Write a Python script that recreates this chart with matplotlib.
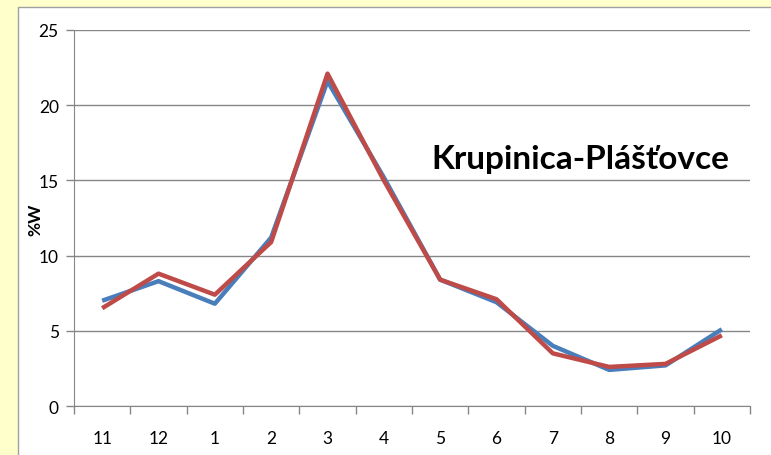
import numpy as np
import matplotlib.pyplot as plt
from matplotlib.patches import Rectangle

months = ["11", "12", "1", "2", "3", "4", "5", "6", "7", "8", "9", "10"]
blue_vals = [7.0, 8.3, 6.8, 11.2, 21.6, 15.2, 8.4, 6.9, 4.0, 2.4, 2.7, 5.1]
red_vals = [6.5, 8.8, 7.4, 10.9, 22.1, 15.0, 8.4, 7.1, 3.5, 2.6, 2.8, 4.7]

plt.rcParams['font.family'] = ['Lato', 'DejaVu Sans']

fig = plt.figure(figsize=(7.71, 4.56), dpi=100)
fig.patch.set_facecolor('#FFFFCC')

# white chart area with grey border
fig.patches.append(Rectangle((18/771, -0.1), 1.1, 1 - 8/456 + 0.1,
                             transform=fig.transFigure, facecolor='white',
                             edgecolor='#A0A0A0', linewidth=1, zorder=-10))

ax = fig.add_axes([74/771, 1 - 407/456, (750 - 74)/771, (407 - 31)/456])
ax.set_facecolor('none')
ax.set_zorder(5)

x = np.arange(len(months))
ax.plot(x, blue_vals, color='#4A7EBB', linewidth=3.2, solid_capstyle='butt', zorder=3)
ax.plot(x, red_vals, color='#BE4B48', linewidth=3.2, solid_capstyle='butt', zorder=4)

ax.set_xlim(-0.5, len(months) - 0.5)
ax.set_ylim(0, 25)
ax.set_yticks([0, 5, 10, 15, 20, 25])
ax.set_xticks(x)
ax.set_xticklabels(months)
ax.set_xticks(np.arange(-0.5, len(months), 1), minor=True)
ax.tick_params(axis='x', which='major', length=0, pad=17, labelsize=12.5)
ax.tick_params(axis='x', which='minor', length=6, color='#868686', width=1)
ax.tick_params(axis='y', length=6, color='#868686', width=1, labelsize=12.5, pad=5)

ax.grid(axis='y', color='#868686', linewidth=1)
ax.set_axisbelow(True)
for s in ['top', 'right']:
    ax.spines[s].set_visible(False)
for s in ['left', 'bottom']:
    ax.spines[s].set_color('#868686')

ax.set_ylabel('%W', fontweight='bold', fontsize=12.5)
ax.yaxis.set_label_coords(-0.046, 0.497)

ax.text(0.749, 0.657, 'Krupinica-Plášťovce', transform=ax.transAxes,
        fontsize=24, fontweight='bold', ha='center', va='center')

fig.savefig('out.png', dpi=100, facecolor=fig.get_facecolor())
